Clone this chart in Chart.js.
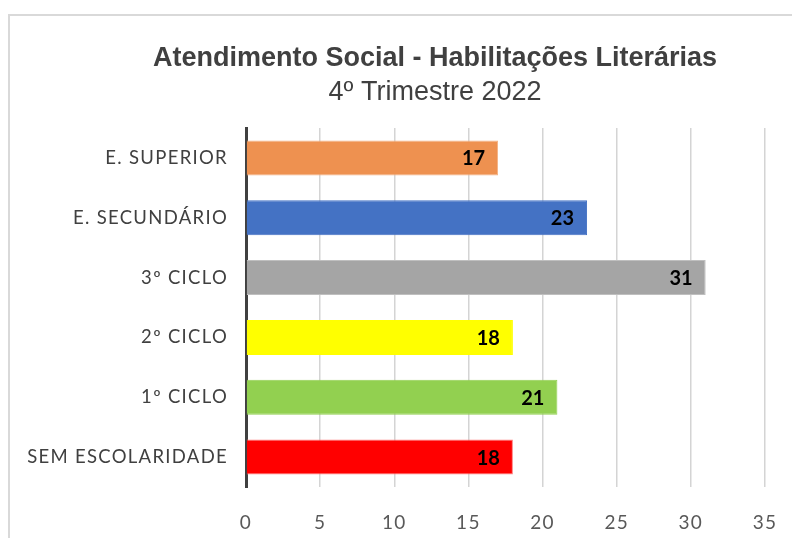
<!DOCTYPE html>
<html>
<head>
<meta charset="utf-8">
<script src="https://cdn.jsdelivr.net/npm/chart.js@4"></script>
<style>
  body { margin: 0; background: #fff; overflow: hidden; }
  #wrap { position: relative; width: 792px; height: 538px; }
  #frame { position: absolute; left: 8px; top: 14px; width: 800px; height: 540px;
           border-top: 2px solid #d9d9d9; border-left: 2px solid #d9d9d9; }
  canvas { position: absolute; left: 0; top: 0; }
</style>
</head>
<body>
<div id="wrap">
  <div id="frame"></div>
  <canvas id="chart" width="792" height="538"></canvas>
</div>
<script>
// dados do gráfico
const categorias = ['E. SUPERIOR', 'E. SECUNDÁRIO', '3º CICLO', '2º CICLO', '1º CICLO', 'SEM ESCOLARIDADE'];
const valores = [17, 23, 31, 18, 21, 18];
const cores = ['#EE9150', '#4472C4', '#A5A5A5', '#FFFF00', '#92D050', '#FF0000'];
const bordas = ['#F4B183', '#4472C4', '#BFBFBF', '#FFFF00', '#92D050', '#FF8080'];
const tickValores = [0, 5, 10, 15, 20, 25, 30, 35];
const titulo = 'Atendimento Social - Habilitações Literárias';
const subtitulo = '4º Trimestre 2022';

// título desenhado à mão, o centro não coincide com o do canvas
const tituloCentrado = {
  id: 'tituloCentrado',
  afterDraw(chart) {
    const ctx = chart.ctx;
    ctx.save();
    ctx.letterSpacing = '0px';
    ctx.fillStyle = '#404040';
    ctx.textAlign = 'center';
    ctx.textBaseline = 'middle';
    ctx.font = 'bold 27px "Liberation Sans"';
    ctx.fillText(titulo, 435, 59);
    ctx.font = '27px "Liberation Sans"';
    ctx.fillText(subtitulo, 435, 93);
    ctx.restore();
  }
};

// rótulos de valor dentro do fim de cada barra
const rotulosBarras = {
  id: 'rotulosBarras',
  afterDatasetsDraw(chart) {
    const ctx = chart.ctx;
    const meta = chart.getDatasetMeta(0);
    ctx.save();
    ctx.letterSpacing = '0px';
    ctx.font = 'bold 20px Lato';
    ctx.fillStyle = '#000';
    ctx.textAlign = 'right';
    ctx.textBaseline = 'middle';
    meta.data.forEach((bar, i) => {
      ctx.fillText(String(valores[i]), bar.x - 13, bar.y + 1);
    });
    ctx.restore();
  }
};

// espaçamento entre letras como no original
const espacamento = {
  id: 'espacamento',
  beforeDraw(chart) { chart.ctx.letterSpacing = '1.3px'; }
};

const ctx = document.getElementById('chart');

const chartHabilitacoes = new Chart(ctx, {
  type: 'bar',
  data: {
    labels: categorias,
    datasets: [
      {
        data: valores,
        backgroundColor: cores,
        borderColor: bordas,
        borderWidth: 1,
        barPercentage: 0.585,
        categoryPercentage: 1
      }
    ]
  },
  options: {
    indexAxis: 'y',
    responsive: false,
    animation: false,
    layout: {
      padding: { left: 0, right: 27, top: 128, bottom: 0 }
    },
    plugins: {
      legend: { display: false },
      tooltip: { enabled: false },
      title: { display: false }
    },
    scales: {
      x: {
        min: 0,
        max: 35,
        afterBuildTicks(scale) {
          scale.ticks = tickValores.map(v => ({ value: v }));
        },
        afterFit(scale) {
          scale.height = 51;
          scale.paddingLeft = 0;
          scale.paddingRight = 0;
        },
        grid: { color: '#d4d4d4', lineWidth: 1.5, drawTicks: false },
        border: { display: false },
        ticks: {
          color: '#595959',
          padding: 24,
          font: { family: 'Lato', size: 19 }
        }
      },
      y: {
        afterFit(scale) { scale.width = 246; },
        grid: { display: false, drawTicks: false },
        border: { display: true, color: '#404040', width: 3 },
        ticks: {
          color: '#404040',
          padding: 18,
          font: { family: 'Lato', size: 18.5 }
        }
      }
    }
  },
  plugins: [espacamento, rotulosBarras, tituloCentrado]
});
</script>
</body>
</html>
